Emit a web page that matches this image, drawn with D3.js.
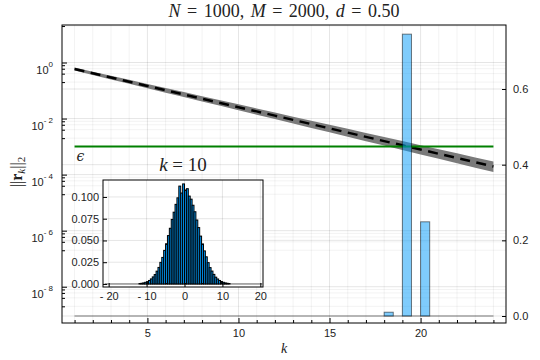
<!DOCTYPE html>
<html>
<head>
<meta charset="utf-8">
<script src="https://cdn.jsdelivr.net/npm/d3@7"></script>
<style>
  body { margin: 0; background: #fff; }
  svg text { font-family: "Liberation Sans", Arial, sans-serif; fill: #222; }
  .math { font-family: "Liberation Serif", "DejaVu Serif", serif; }
</style>
</head>
<body>
<svg id="chart" width="540" height="360"></svg>
<script>
/*** DATA ***/
// residual norm ||r_k||_2 per iteration (mean and band)
const kVals = [1, 2, 3, 4, 5, 6, 7, 8, 9, 10, 11, 12, 13, 14, 15, 16, 17, 18, 19, 20, 21, 22, 23, 24];
const resMean = [0.586, 0.414, 0.292, 0.206, 0.146, 0.103, 0.0724, 0.0512, 0.0361, 0.0255, 0.0180, 0.0127,
                 0.00896, 0.00633, 0.00447, 0.00315, 0.00222, 0.00157, 0.00111, 0.000782, 0.000552, 0.000390, 0.000275, 0.000194];
const resHigh = [0.658, 0.471, 0.336, 0.240, 0.172, 0.123, 0.0879, 0.0630, 0.0451, 0.0321, 0.0230, 0.0165,
                 0.0117, 0.00841, 0.00603, 0.00431, 0.00308, 0.00220, 0.00158, 0.00112, 0.000805, 0.000577, 0.000411, 0.000294];
const resLow = [0.516, 0.360, 0.250, 0.174, 0.121, 0.0841, 0.0586, 0.0408, 0.0284, 0.0197, 0.0137, 0.00957,
                0.00665, 0.00462, 0.00322, 0.00224, 0.00156, 0.00109, 0.000755, 0.000525, 0.000366, 0.000255, 0.000177, 0.000123];

// tolerance line
const epsK = [1, 24];
const epsValue = 1e-3;

// share of runs stopping at iteration k (right axis)
const stopK = [18, 19, 20];
const stopProb = [0.010, 0.745, 0.249];
const stopBinWidth = 0.5;
const stopRange = [1, 24];

// inset: distribution at k = 10
const insetCenters = [-11.75, -11.25, -10.75, -10.25, -9.75, -9.25, -8.75, -8.25, -7.75, -7.25, -6.75, -6.25,
                      -5.75, -5.25, -4.75, -4.25, -3.75, -3.25, -2.75, -2.25, -1.75, -1.25, -0.75, -0.25,
                      0.25, 0.75, 1.25, 1.75, 2.25, 2.75, 3.25, 3.75, 4.25, 4.75, 5.25, 5.75,
                      6.25, 6.75, 7.25, 7.75, 8.25, 8.75, 9.25, 9.75, 10.25, 10.75, 11.25, 11.75];
const insetDensity = [0.0005, 0.0008, 0.0012, 0.0019, 0.0027, 0.0040, 0.0058, 0.0081, 0.0108, 0.0147, 0.0190, 0.0248,
                      0.0305, 0.0386, 0.0462, 0.0556, 0.0640, 0.0742, 0.0825, 0.0915, 0.0990, 0.1125, 0.1045, 0.1150,
                      0.1080, 0.1095, 0.1010, 0.0975, 0.0905, 0.0830, 0.0735, 0.0648, 0.0550, 0.0460, 0.0380, 0.0312,
                      0.0245, 0.0188, 0.0148, 0.0110, 0.0078, 0.0057, 0.0040, 0.0028, 0.0019, 0.0012, 0.0008, 0.0005];
const insetBinWidth = 0.5;
const insetRange = [-21, 20.5];

// ticks
const xTicks = [5, 10, 15, 20];
const leftTicks = [1, 1e-2, 1e-4, 1e-6, 1e-8];
const leftTickExp = ["0", "- 2", "- 4", "- 6", "- 8"];
const rightTicks = [0, 0.2, 0.4, 0.6];
const insetXTicks = [-20, -10, 0, 10, 20];
const insetXLabels = ["- 20", "- 10", "0", "10", "20"];
const insetYTicks = [0, 0.025, 0.05, 0.075, 0.1];

/*** LAYOUT ***/
const plot = {left: 62, right: 506, top: 25, bottom: 323};
const ins = {left: 103, right: 263, top: 180, bottom: 287};

const svg = d3.select("#chart");

const x = d3.scaleLinear().domain([0.31, 24.69]).range([plot.left, plot.right]);
const yL = d3.scaleLog().domain([Math.pow(10, -9.294), Math.pow(10, 1.338)]).range([plot.bottom, plot.top]);
const yR = d3.scaleLinear().domain([-0.0185, 0.7692]).range([plot.bottom, plot.top]);

const xi = d3.scaleLinear().domain([-21.5, 20.7]).range([ins.left, ins.right]);
const yi = d3.scaleLinear().domain([-0.0035, 0.1195]).range([ins.bottom, ins.top]);

// minor ticks of the log axis at 0.2, 0.4, 0.6, 0.8 of each major
const leftMinor = [];
[2, 0, -2, -4, -6, -8, -10].forEach(e => {
  [0.2, 0.4, 0.6, 0.8].forEach(m => {
    const v = m * Math.pow(10, e);
    if (v > yL.domain()[0] && v < yL.domain()[1]) leftMinor.push(v);
  });
});
const xMinor = d3.range(1, 25).filter(k => !xTicks.includes(k));

/*** GRID ***/
const grid = svg.append("g");
grid.selectAll(".gxm").data(xMinor).join("line")
  .attr("x1", d => x(d)).attr("x2", d => x(d))
  .attr("y1", plot.top).attr("y2", plot.bottom)
  .attr("stroke", "#000").attr("stroke-opacity", 0.05);
grid.selectAll(".gx").data(xTicks).join("line")
  .attr("x1", d => x(d)).attr("x2", d => x(d))
  .attr("y1", plot.top).attr("y2", plot.bottom)
  .attr("stroke", "#000").attr("stroke-opacity", 0.1);
grid.selectAll(".gym").data(leftMinor).join("line")
  .attr("x1", plot.left).attr("x2", plot.right)
  .attr("y1", d => yL(d)).attr("y2", d => yL(d))
  .attr("stroke", "#000").attr("stroke-opacity", 0.05);
grid.selectAll(".gy").data(leftTicks).join("line")
  .attr("x1", plot.left).attr("x2", plot.right)
  .attr("y1", d => yL(d)).attr("y2", d => yL(d))
  .attr("stroke", "#000").attr("stroke-opacity", 0.1);
grid.selectAll(".gyr").data(rightTicks).join("line")
  .attr("x1", plot.left).attr("x2", plot.right)
  .attr("y1", d => yR(d)).attr("y2", d => yR(d))
  .attr("stroke", "#000").attr("stroke-opacity", 0.1);

/*** RESIDUAL BAND + LINES ***/
const res = kVals.map((k, i) => ({k, mean: resMean[i], lo: resLow[i], hi: resHigh[i]}));

svg.append("path")
  .datum(res)
  .attr("fill", "#7a7a7a")
  .attr("d", d3.area().x(d => x(d.k)).y0(d => yL(d.lo)).y1(d => yL(d.hi)));

svg.append("path")
  .datum(res)
  .attr("fill", "none")
  .attr("stroke", "#000")
  .attr("stroke-width", 2.5)
  .attr("stroke-dasharray", "10,6.5")
  .attr("d", d3.line().x(d => x(d.k)).y(d => yL(d.mean)));

svg.append("line")
  .attr("x1", x(epsK[0])).attr("x2", x(epsK[1]))
  .attr("y1", yL(epsValue)).attr("y2", yL(epsValue))
  .attr("stroke", "#008000").attr("stroke-width", 2);

svg.append("text")
  .attr("class", "math")
  .attr("x", x(1) + 2).attr("y", yL(epsValue) + 14)
  .style("font-family", "'DejaVu Serif', serif")
  .style("font-size", "14px")
  .style("font-style", "italic")
  .text("\u03F5");

/*** STOP HISTOGRAM (right axis) ***/
svg.append("line")
  .attr("x1", x(stopRange[0])).attr("x2", x(stopRange[1]))
  .attr("y1", yR(0)).attr("y2", yR(0))
  .attr("stroke", "#000").attr("stroke-opacity", 0.5);

svg.append("g")
  .selectAll("rect")
  .data(stopK.map((k, i) => ({k, p: stopProb[i]})))
  .join("rect")
  .attr("x", d => x(d.k))
  .attr("width", d => x(d.k + stopBinWidth) - x(d.k))
  .attr("y", d => yR(d.p))
  .attr("height", d => yR(0) - yR(d.p))
  .attr("fill", "#009AFA").attr("fill-opacity", 0.5)
  .attr("stroke", "#000").attr("stroke-opacity", 0.5);

/*** FRAME + AXES ***/
svg.append("rect")
  .attr("x", plot.left).attr("y", plot.top)
  .attr("width", plot.right - plot.left).attr("height", plot.bottom - plot.top)
  .attr("fill", "none").attr("stroke", "#000");

const tickText = g => g.selectAll("text").style("font-size", "11px").attr("fill", "#222");

svg.append("g")
  .attr("transform", `translate(0,${plot.bottom})`)
  .call(d3.axisBottom(x).tickValues(xTicks).tickSizeInner(-5).tickSizeOuter(0).tickPadding(6))
  .call(g => g.select(".domain").remove())
  .call(tickText);

svg.append("g")
  .attr("transform", `translate(0,${plot.bottom})`)
  .call(d3.axisBottom(x).tickValues(xMinor).tickSizeInner(-3).tickSizeOuter(0).tickFormat(""))
  .call(g => g.select(".domain").remove());

const gLeft = svg.append("g")
  .attr("transform", `translate(${plot.left},0)`)
  .call(d3.axisLeft(yL).tickValues(leftTicks).tickSizeInner(-5).tickSizeOuter(0).tickFormat(""))
  .call(g => g.select(".domain").remove());

gLeft.selectAll(".tick").each(function (d, i) {
  const t = d3.select(this).append("text")
    .attr("x", -9).attr("y", 11)
    .attr("text-anchor", "end")
    .attr("fill", "#222");
  t.append("tspan").style("font-size", "11px").text("10");
  t.append("tspan").attr("dy", -7.5).style("font-size", "8px").text(leftTickExp[i]);
});

svg.append("g")
  .attr("transform", `translate(${plot.left},0)`)
  .call(d3.axisLeft(yL).tickValues(leftMinor).tickSizeInner(-3).tickSizeOuter(0).tickFormat(""))
  .call(g => g.select(".domain").remove());

svg.append("g")
  .attr("transform", `translate(${plot.right},0)`)
  .call(d3.axisRight(yR).tickValues(rightTicks).tickSizeInner(-4).tickSizeOuter(0).tickPadding(7)
    .tickFormat(d3.format(".1f")))
  .call(g => g.select(".domain").remove())
  .call(tickText);

svg.append("text")
  .attr("class", "math")
  .attr("x", (plot.left + plot.right) / 2).attr("y", 353)
  .attr("text-anchor", "middle")
  .style("font-size", "14px").style("font-style", "italic")
  .text("k");

const yLab = svg.append("text")
  .attr("class", "math")
  .attr("transform", "translate(22,172) rotate(-90)")
  .attr("text-anchor", "middle")
  .style("font-size", "16px");
yLab.append("tspan").text("||");
yLab.append("tspan").style("font-weight", "bold").text("r");
yLab.append("tspan").attr("dy", 3).style("font-size", "11px").style("font-style", "italic").text("k");
yLab.append("tspan").attr("dy", -3).text("||");
yLab.append("tspan").attr("dy", 3).style("font-size", "11px").text("2");

// title
const title = svg.append("text")
  .attr("class", "math")
  .attr("x", (plot.left + plot.right) / 2).attr("y", 17)
  .attr("text-anchor", "middle")
  .style("font-size", "18px")
  .style("word-spacing", "2px");
[["N", true], [" = 1000, ", false], ["M", true], [" = 2000, ", false], ["d", true], [" = 0.50", false]]
  .forEach(([s, it]) => title.append("tspan").style("font-style", it ? "italic" : "normal").text(s));

/*** INSET ***/
const gi = svg.append("g");
gi.append("rect")
  .attr("x", ins.left).attr("y", ins.top)
  .attr("width", ins.right - ins.left).attr("height", ins.bottom - ins.top)
  .attr("fill", "#fff");

gi.selectAll(".igx").data(insetXTicks).join("line")
  .attr("x1", d => xi(d)).attr("x2", d => xi(d))
  .attr("y1", ins.top).attr("y2", ins.bottom)
  .attr("stroke", "#000").attr("stroke-opacity", 0.1);
gi.selectAll(".igy").data(insetYTicks).join("line")
  .attr("x1", ins.left).attr("x2", ins.right)
  .attr("y1", d => yi(d)).attr("y2", d => yi(d))
  .attr("stroke", "#000").attr("stroke-opacity", 0.1);

gi.append("line")
  .attr("x1", xi(insetRange[0])).attr("x2", xi(insetRange[1]))
  .attr("y1", yi(0)).attr("y2", yi(0))
  .attr("stroke", "#666");

gi.append("g")
  .selectAll("rect")
  .data(insetCenters.map((c, i) => ({c, v: insetDensity[i]})))
  .join("rect")
  .attr("x", d => xi(d.c - insetBinWidth / 2))
  .attr("width", d => xi(d.c + insetBinWidth / 2) - xi(d.c - insetBinWidth / 2))
  .attr("y", d => yi(d.v))
  .attr("height", d => yi(0) - yi(d.v))
  .attr("fill", "#009AFA")
  .attr("stroke", "#000").attr("stroke-width", 1);

gi.append("rect")
  .attr("x", ins.left).attr("y", ins.top)
  .attr("width", ins.right - ins.left).attr("height", ins.bottom - ins.top)
  .attr("fill", "none").attr("stroke", "#000");

gi.append("g")
  .attr("transform", `translate(0,${ins.bottom})`)
  .call(d3.axisBottom(xi).tickValues(insetXTicks).tickSizeInner(-4).tickSizeOuter(0).tickPadding(5)
    .tickFormat((d, i) => insetXLabels[i]))
  .call(g => g.select(".domain").remove())
  .call(tickText);

gi.append("g")
  .attr("transform", `translate(${ins.left},0)`)
  .call(d3.axisLeft(yi).tickValues(insetYTicks).tickSizeInner(-4).tickSizeOuter(0).tickPadding(4)
    .tickFormat(d3.format(".3f")))
  .call(g => g.select(".domain").remove())
  .call(tickText);

const iTitle = gi.append("text")
  .attr("class", "math")
  .attr("x", (ins.left + ins.right) / 2).attr("y", 171)
  .attr("text-anchor", "middle")
  .style("font-size", "19px");
iTitle.append("tspan").style("font-style", "italic").text("k");
iTitle.append("tspan").text(" = 10");
</script>
</body>
</html>
